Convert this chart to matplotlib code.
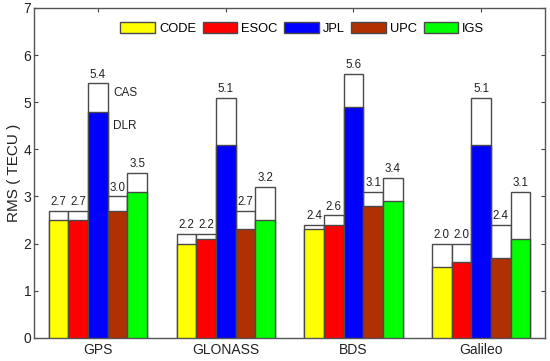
import numpy as np
import matplotlib.pyplot as plt

plt.rcParams['font.family'] = ['Liberation Sans', 'DejaVu Sans']

# data
systems = ['GPS', 'GLONASS', 'BDS', 'Galileo']
centers = ['CODE', 'ESOC', 'JPL', 'UPC', 'IGS']
colors = ['#ffff00', '#ff0000', '#0000ff', '#b03000', '#00ff00']

# RMS with CAS DCB (white part, total height)
cas = [[2.7, 2.7, 5.4, 3.0, 3.5],
       [2.2, 2.2, 5.1, 2.7, 3.2],
       [2.4, 2.6, 5.6, 3.1, 3.4],
       [2.0, 2.0, 5.1, 2.4, 3.1]]
# RMS with DLR DCB (coloured part)
dlr = [[2.5, 2.5, 4.8, 2.7, 3.1],
       [2.0, 2.1, 4.1, 2.3, 2.5],
       [2.3, 2.4, 4.9, 2.8, 2.9],
       [1.5, 1.6, 4.1, 1.7, 2.1]]

cas = np.array(cas)
dlr = np.array(dlr)

fig = plt.figure(figsize=(5.5, 3.61), dpi=100)
ax = fig.add_axes([0.062, 0.064, 0.929, 0.914])

x = np.arange(1, len(systems) + 1)
bar_width = 0.154
edge = '#4a4a4a'

for j, name in enumerate(centers):
    pos = x + (j - 2) * bar_width
    ax.bar(pos, cas[:, j], bar_width, color='white', edgecolor=edge, linewidth=1.0, zorder=2)
    ax.bar(pos, dlr[:, j], bar_width, color=colors[j], edgecolor=edge, linewidth=1.0,
           label=name, zorder=3)
    # value on top of each bar
    for p, v in zip(pos, cas[:, j]):
        ax.text(p, v + 0.06, '%.1f' % v, ha='center', va='bottom', fontsize=8.3, color='#222222')

# annotation of the two parts
ax.text(1.12, 5.2, 'CAS', fontsize=8.5, va='center', color='#222222')
ax.text(1.12, 4.5, 'DLR', fontsize=8.5, va='center', color='#222222')

ax.set_xlim(0.5, 4.5)
ax.set_ylim(0, 7)
ax.set_xticks(x)
ax.set_xticklabels(systems, fontsize=10)
ax.set_yticks(range(8))
ax.tick_params(axis='y', labelsize=10, pad=2)
ax.tick_params(direction='in', top=True, right=True, length=3, colors='#444444', labelcolor='#222222')
ax.set_ylabel('RMS ( TECU )', fontsize=11, labelpad=2, color='#222222')
for s in ax.spines.values():
    s.set_color('#555555')
    s.set_linewidth(1.0)

leg = ax.legend(loc='upper center', bbox_to_anchor=(0.525, 0.985), ncol=5, frameon=False,
                fontsize=9.3, handlelength=2.7, handleheight=1.0, handletextpad=0.3,
                columnspacing=0.5, borderaxespad=0.3)

plt.savefig('out.png', dpi=100)
